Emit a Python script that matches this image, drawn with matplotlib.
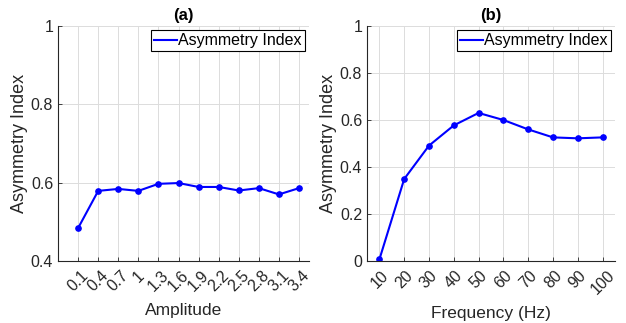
import matplotlib.pyplot as plt
from matplotlib.lines import Line2D

plt.rcParams['font.family'] = ['Liberation Sans', 'DejaVu Sans']

amplitude = [0.1, 0.4, 0.7, 1.0, 1.3, 1.6, 1.9, 2.2, 2.5, 2.8, 3.1, 3.4]
amp_labels = ['0.1', '0.4', '0.7', '1', '1.3', '1.6', '1.9', '2.2', '2.5', '2.8', '3.1', '3.4']
asym_amp = [0.484, 0.579, 0.584, 0.579, 0.597, 0.599, 0.589, 0.589, 0.580, 0.586, 0.570, 0.586]

frequency = [10, 20, 30, 40, 50, 60, 70, 80, 90, 100]
asym_freq = [0.007, 0.349, 0.491, 0.577, 0.630, 0.600, 0.560, 0.526, 0.522, 0.526]

fig = plt.figure(figsize=(6.26, 3.23), dpi=100)
ax1 = fig.add_axes([0.0927, 0.192, 0.401, 0.7275])
ax2 = fig.add_axes([0.5863, 0.192, 0.396, 0.7275])


def style(ax):
    ax.spines['top'].set_visible(False)
    ax.spines['right'].set_visible(False)
    for s in ('left', 'bottom'):
        ax.spines[s].set_color('#262626')
        ax.spines[s].set_linewidth(0.8)
    ax.grid(True, color='#dcdcdc', linewidth=0.7)
    ax.set_axisbelow(True)
    ax.tick_params(direction='in', length=3, width=0.6, colors='#262626',
                   labelsize=11.5, labelcolor='#262626')
    ax.tick_params(axis='x', pad=5)
    handle = Line2D([], [], color='blue', linewidth=1.5)
    leg = ax.legend([handle], ['Asymmetry Index'], loc='upper right', fontsize=11.5,
                    frameon=True, fancybox=False, framealpha=1,
                    handlelength=1.4, handletextpad=0.1, borderpad=0.2,
                    borderaxespad=0.25)
    leg.get_frame().set_edgecolor('black')
    leg.get_frame().set_linewidth(0.8)


ax1.plot(amplitude, asym_amp, color='blue', marker='o', markersize=3.8,
         linewidth=1.5)
ax1.set_xlim(-0.2, 3.55)
ax1.set_ylim(0.4, 1.0)
ax1.set_yticks([0.4, 0.6, 0.8, 1.0])
ax1.set_yticklabels(['0.4', '0.6', '0.8', '1'])
ax1.set_xticks(amplitude)
ax1.set_xticklabels(amp_labels, rotation=45)
ax1.set_xlabel('Amplitude', fontsize=12.5, color='#262626', labelpad=6)
ax1.set_ylabel('Asymmetry Index', fontsize=13, color='#262626', labelpad=2)
ax1.set_title('(a)', fontsize=12, fontweight='bold', pad=4)
style(ax1)

ax2.plot(frequency, asym_freq, color='blue', marker='o', markersize=3.8,
         linewidth=1.5)
ax2.set_xlim(5, 105)
ax2.set_ylim(0, 1.0)
ax2.set_yticks([0, 0.2, 0.4, 0.6, 0.8, 1.0])
ax2.set_yticklabels(['0', '0.2', '0.4', '0.6', '0.8', '1'])
ax2.set_xticks(frequency)
ax2.set_xticklabels([str(f) for f in frequency], rotation=45)
ax2.set_xlabel('Frequency (Hz)', fontsize=12.5, color='#262626', labelpad=6)
ax2.set_ylabel('Asymmetry Index', fontsize=13, color='#262626', labelpad=2)
ax2.set_title('(b)', fontsize=12, fontweight='bold', pad=4)
style(ax2)

fig.savefig('out.png', dpi=100)
